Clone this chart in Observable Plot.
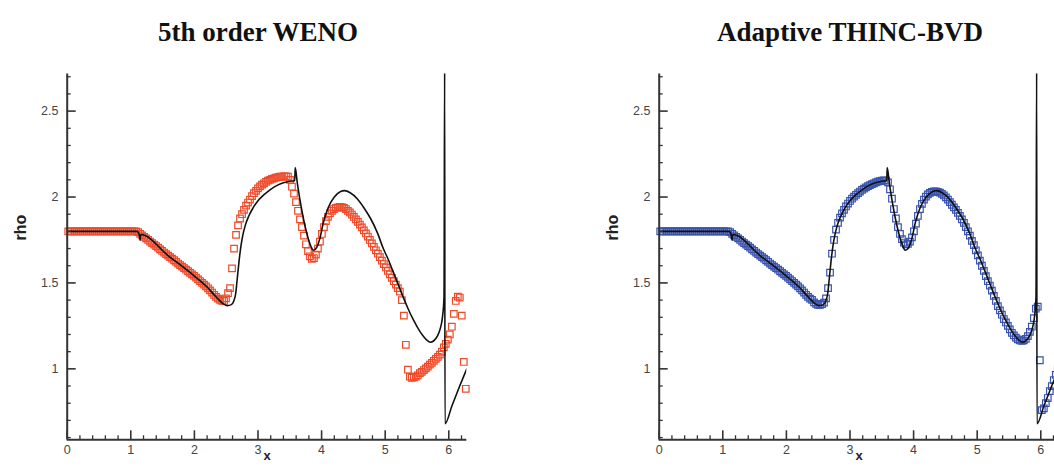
<!DOCTYPE html>
<html><head><meta charset="utf-8">
<script src="https://cdn.jsdelivr.net/npm/d3@7"></script>
<script src="https://cdn.jsdelivr.net/npm/@observablehq/plot@0.6"></script>
<style>
html,body{margin:0;padding:0;background:#fff;overflow:hidden;}
#wrap{position:relative;width:1054px;height:466px;overflow:hidden;background:#fff;}
#wrap svg{position:absolute;top:0;}
</style></head><body><div id="wrap"></div>
<script>
// ---- data ----
const titles = ["5th order WENO", "Adaptive THINC-BVD"];
const xDomain = [0, 6.2832];
const yDomain = [0.587, 2.716];
const xMajor = [0, 1, 2, 3, 4, 5, 6];
const xMinor = [0.2,0.4,0.6,0.8,1.2,1.4,1.6,1.8,2.2,2.4,2.6,2.8,3.2,3.4,3.6,3.8,4.2,4.4,4.6,4.8,5.2,5.4,5.6,5.8,6.2];
const yMajor = [1, 1.5, 2, 2.5];
const yMinor = [0.6,0.7,0.8,0.9,1.1,1.2,1.3,1.4,1.6,1.7,1.8,1.9,2.1,2.2,2.3,2.4,2.6,2.7];

// cell centres of the numerical solutions
const cellX = [
0.016,0.047,0.079,0.110,0.141,0.173,0.204,0.236,0.267,0.298,
0.330,0.361,0.393,0.424,0.456,0.487,0.518,0.550,0.581,0.613,
0.644,0.675,0.707,0.738,0.770,0.801,0.832,0.864,0.895,0.927,
0.958,0.990,1.021,1.052,1.084,1.115,1.147,1.178,1.210,1.241,
1.272,1.304,1.335,1.367,1.398,1.429,1.461,1.492,1.524,1.555,
1.587,1.618,1.649,1.681,1.712,1.744,1.775,1.806,1.838,1.869,
1.901,1.932,1.963,1.995,2.026,2.058,2.089,2.121,2.152,2.183,
2.215,2.246,2.278,2.309,2.340,2.372,2.403,2.435,2.466,2.497,
2.529,2.560,2.592,2.623,2.655,2.686,2.717,2.749,2.780,2.812,
2.843,2.874,2.906,2.937,2.969,3.000,3.032,3.063,3.094,3.126,
3.157,3.189,3.220,3.252,3.283,3.314,3.346,3.377,3.409,3.440,
3.471,3.503,3.534,3.566,3.597,3.629,3.660,3.691,3.723,3.754,
3.786,3.817,3.848,3.880,3.911,3.942,3.974,4.005,4.037,4.068,
4.100,4.131,4.163,4.194,4.225,4.257,4.288,4.320,4.351,4.382,
4.414,4.445,4.477,4.508,4.540,4.571,4.602,4.634,4.665,4.697,
4.728,4.759,4.791,4.822,4.854,4.885,4.917,4.948,4.979,5.011,
5.042,5.074,5.105,5.136,5.168,5.199,5.231,5.262,5.294,5.325,
5.357,5.388,5.419,5.451,5.482,5.513,5.545,5.576,5.608,5.639,
5.671,5.702,5.733,5.765,5.796,5.828,5.859,5.891,5.922,5.953,
5.985,6.016,6.048,6.079,6.110,6.142,6.173,6.204,6.236,6.267];

// 5th order WENO density
const wenoRho = [
1.8,1.8,1.8,1.8,1.8,1.8,1.8,1.8,1.8,1.8,
1.8,1.8,1.8,1.8,1.8,1.8,1.8,1.8,1.8,1.8,
1.8,1.8,1.8,1.8,1.8,1.8,1.8,1.8,1.8,1.8,
1.8,1.8,1.8,1.8,1.8,1.796,1.786,1.777,1.768,1.759,
1.750,1.741,1.732,1.723,1.714,1.705,1.695,1.686,1.677,1.668,
1.659,1.650,1.641,1.632,1.623,1.613,1.604,1.595,1.586,1.577,
1.568,1.559,1.550,1.541,1.531,1.521,1.511,1.500,1.490,1.480,
1.469,1.457,1.444,1.431,1.419,1.409,1.401,1.396,1.395,1.41,
1.44,1.47,1.585,1.70,1.78,1.835,1.875,1.90,1.925,1.95,
1.968,1.985,2.005,2.022,2.036,2.05,2.062,2.072,2.08,2.088,
2.095,2.10,2.105,2.109,2.113,2.116,2.118,2.119,2.12,2.12,
2.118,2.10,2.06,2.02,1.97,1.92,1.87,1.825,1.775,1.725,
1.685,1.655,1.64,1.645,1.665,1.70,1.74,1.785,1.825,1.86,
1.885,1.905,1.92,1.93,1.937,1.94,1.942,1.941,1.937,1.93,
1.92,1.91,1.898,1.884,1.87,1.855,1.84,1.823,1.806,1.788,
1.77,1.75,1.73,1.71,1.69,1.67,1.65,1.63,1.61,1.59,
1.57,1.55,1.53,1.51,1.49,1.47,1.45,1.40,1.31,1.14,
0.995,0.955,0.948,0.95,0.955,0.962,0.975,0.983,0.993,1.003,
1.013,1.025,1.035,1.047,1.058,1.07,1.083,1.10,1.125,1.145,
1.17,1.20,1.245,1.32,1.395,1.42,1.415,1.31,1.04,0.884];

// Adaptive THINC-BVD density
const thincRho = [
1.8,1.8,1.8,1.8,1.8,1.8,1.8,1.8,1.8,1.8,
1.8,1.8,1.8,1.8,1.8,1.8,1.8,1.8,1.8,1.8,
1.8,1.8,1.8,1.8,1.8,1.8,1.8,1.8,1.8,1.8,
1.8,1.8,1.8,1.8,1.8,1.796,1.786,1.777,1.768,1.759,
1.750,1.741,1.732,1.723,1.714,1.705,1.695,1.686,1.677,1.668,
1.659,1.650,1.641,1.632,1.623,1.613,1.604,1.595,1.586,1.577,
1.568,1.559,1.550,1.541,1.531,1.521,1.511,1.500,1.490,1.480,
1.469,1.457,1.444,1.431,1.419,1.409,1.401,1.387,1.378,1.373,
1.372,1.376,1.385,1.41,1.47,1.56,1.67,1.75,1.81,1.85,
1.88,1.905,1.925,1.945,1.962,1.977,1.99,2.002,2.013,2.023,
2.032,2.041,2.049,2.056,2.063,2.069,2.075,2.08,2.085,2.089,
2.092,2.095,2.097,2.095,2.085,2.045,1.99,1.93,1.875,1.825,
1.785,1.755,1.735,1.725,1.728,1.74,1.765,1.80,1.845,1.89,
1.93,1.96,1.985,2.002,2.015,2.024,2.03,2.033,2.033,2.03,
2.025,2.018,2.009,1.998,1.985,1.97,1.955,1.94,1.925,1.908,
1.89,1.87,1.85,1.825,1.80,1.775,1.745,1.72,1.69,1.66,
1.63,1.60,1.57,1.54,1.51,1.485,1.455,1.425,1.395,1.365,
1.34,1.315,1.29,1.27,1.25,1.23,1.21,1.195,1.182,1.172,
1.165,1.163,1.166,1.175,1.19,1.215,1.245,1.295,1.35,1.362,
1.05,0.76,0.77,0.80,0.83,0.87,0.90,0.935,0.965,0.995];

// reference (exact) solution
const refX = [0,1.10,1.135,1.145,1.155,1.6,2.0,2.2,2.35,2.45,2.52,2.58,2.62,2.65,2.67,2.70,2.73,2.76,2.80,2.85,2.92,3.0,3.1,3.2,3.3,3.4,3.5,3.578,3.585,3.62,3.69,3.77,3.83,3.87,3.92,3.97,4.03,4.1,4.2,4.3,4.36,4.45,4.56,4.67,4.77,4.88,4.97,5.05,5.12,5.2,5.28,5.36,5.45,5.55,5.61,5.66,5.71,5.76,5.82,5.87,5.90,5.925,5.935,5.94,6.05,6.15,6.2832];
const refY = [1.8,1.8,1.778,1.748,1.782,1.655,1.54,1.476,1.415,1.38,1.368,1.374,1.395,1.44,1.51,1.62,1.71,1.775,1.835,1.885,1.935,1.978,2.015,2.045,2.068,2.083,2.092,2.095,2.172,2.076,1.92,1.785,1.715,1.69,1.705,1.755,1.855,1.935,2.0,2.032,2.037,2.025,1.99,1.935,1.875,1.79,1.70,1.635,1.57,1.495,1.42,1.35,1.28,1.215,1.185,1.165,1.155,1.162,1.19,1.24,1.30,1.42,2.75,0.68,0.785,0.88,1.0];

const colors = ["#ee4b2b", "#3953ae"];

// ---- layout ----
const W = 527, H = 466;
const mT = 73.5, mB = 26.7, mL = 66.7, mR = 60.7;
const frameW = W - mL - mR, frameH = H - mT - mB;
const offsets = [0, 591.6];
const axisColor = "#333";

function panel(title, ys, color) {
  const pts = cellX.map((x, i) => ({x, y: ys[i]}));
  const ref = refX.map((x, i) => ({x, y: refY[i]}));
  return Plot.plot({
    width: W, height: H,
    marginTop: mT, marginBottom: mB, marginLeft: mL, marginRight: mR,
    x: {domain: xDomain},
    y: {domain: yDomain},
    style: {background: "transparent", fontFamily: "Liberation Sans, Arial, sans-serif", fontSize: "12.5px", color: "#444", overflow: "visible"},
    marks: [
      Plot.dot(pts, {x: "x", y: "y", symbol: "square", r: 3.7, stroke: color, strokeWidth: 1.2, fill: "none"}),
      Plot.line(ref, {x: "x", y: "y", stroke: "#111", strokeWidth: 1.6, curve: "monotone-x", clip: true}),
      Plot.tickY(yMinor, {y: d => d, insetRight: frameW - 4, stroke: axisColor, strokeWidth: 1.3}),
      Plot.tickY(yMajor, {y: d => d, insetRight: frameW - 9, stroke: axisColor, strokeWidth: 1.6}),
      Plot.tickX(xMinor, {x: d => d, insetTop: frameH - 4, stroke: axisColor, strokeWidth: 1.3}),
      Plot.tickX(xMajor, {x: d => d, insetTop: frameH - 9, stroke: axisColor, strokeWidth: 1.6}),
      Plot.ruleX([xDomain[0]], {stroke: axisColor, strokeWidth: 2}),
      Plot.ruleY([yDomain[0]], {stroke: axisColor, strokeWidth: 2}),
      Plot.axisY(yMajor, {tickSize: 0, tickPadding: 8.7, label: null, tickFormat: d => String(d), fill: "#444"}),
      Plot.axisX(xMajor, {tickSize: 0, tickPadding: 5, label: null, tickFormat: d => String(d), fill: "#444"}),
      Plot.text([title], {frameAnchor: "top", dx: -9, dy: -52.1, fontSize: 27, fontWeight: "bold", fontFamily: "Liberation Serif, Times New Roman, serif", fill: "#111"}),
      Plot.text(["rho"], {frameAnchor: "left", dx: -46.8, dy: -16.4, rotate: -90, fontSize: 16, fontWeight: "bold", fontFamily: "Liberation Sans, Arial, sans-serif", fill: "#222"}),
      Plot.text(["x"], {frameAnchor: "bottom", dy: 20.5, fontSize: 13, fontWeight: "bold", fontFamily: "Liberation Sans, Arial, sans-serif", fill: "#222"})
    ]
  });
}

const wrap = document.getElementById("wrap");
const series = [wenoRho, thincRho];
titles.forEach((t, k) => {
  const svg = panel(t, series[k], colors[k]);
  svg.style.left = offsets[k] + "px";
  wrap.appendChild(svg);
});
</script></body></html>
